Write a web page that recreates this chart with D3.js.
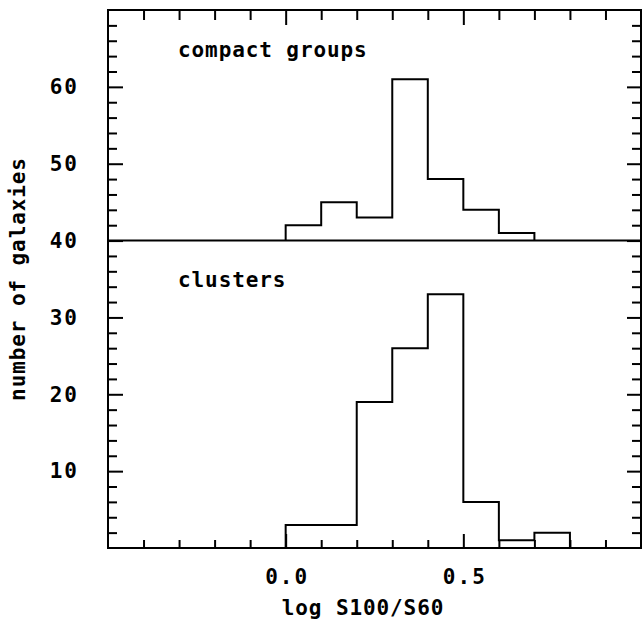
<!DOCTYPE html>
<html>
<head>
<meta charset="utf-8">
<script src="https://cdn.jsdelivr.net/npm/d3@7"></script>
<style>
  body { margin: 0; background: #fff; }
  svg text { font-family: "DejaVu Sans Mono", monospace; font-weight: bold; fill: #000; }
</style>
</head>
<body>
<svg></svg>
<script>
var width = 643;
var height = 620;
var mLeft = 108, mRight = 641, mTop = 10, mBottom = 548;

// histogram bins start at 0.0 with width 0.1
var binWidth = 0.1;
var groupCounts = [2, 5, 3, 21, 8, 4, 1];
var clusterCounts = [3, 3, 19, 26, 33, 6, 1, 2];
var groupBase = 40;
var yLabels = [10, 20, 30, 40, 50, 60];
var xLabelValues = [0.0, 0.5];
var xLabelText = ["0.0", "0.5"];

var svg = d3.select("svg")
    .attr("width", width)
    .attr("height", height);

var xScale = d3.scaleLinear().domain([-0.5, 1.0]).range([mLeft, mRight]);
var yScale = d3.scaleLinear().domain([0, 70]).range([mBottom, mTop]);

var xMinor = d3.range(-4, 10).map(d => d / 10).filter(d => Math.abs(d) > 1e-9 && Math.abs(d - 0.5) > 1e-9);
var yMinor = d3.range(2, 70, 2).filter(d => d % 10 !== 0);

function noDomain(g) { g.select(".domain").remove(); g.selectAll("line").attr("stroke", "#000").attr("stroke-width", 2); }

// left
svg.append("g").attr("transform", "translate(" + mLeft + ",0)")
    .call(d3.axisLeft(yScale).tickValues(yMinor).tickSize(-9).tickFormat(""))
    .call(noDomain);
svg.append("g").attr("transform", "translate(" + mLeft + ",0)")
    .call(d3.axisLeft(yScale).tickValues(yLabels).tickSize(-15).tickPadding(31))
    .call(noDomain)
  .selectAll("text")
    .style("font-size", "21px")
    .style("letter-spacing", "2px")
    .attr("dx", "2px");

// right
svg.append("g").attr("transform", "translate(" + mRight + ",0)")
    .call(d3.axisRight(yScale).tickValues(yMinor).tickSize(-9).tickFormat(""))
    .call(noDomain);
svg.append("g").attr("transform", "translate(" + mRight + ",0)")
    .call(d3.axisRight(yScale).tickValues(yLabels).tickSize(-14).tickFormat(""))
    .call(noDomain);

// top
svg.append("g").attr("transform", "translate(0," + mTop + ")")
    .call(d3.axisTop(xScale).tickValues(xMinor).tickSize(-10).tickFormat(""))
    .call(noDomain);
svg.append("g").attr("transform", "translate(0," + mTop + ")")
    .call(d3.axisTop(xScale).tickValues(xLabelValues).tickSize(-15).tickFormat(""))
    .call(noDomain);

// bottom
svg.append("g").attr("transform", "translate(0," + mBottom + ")")
    .call(d3.axisBottom(xScale).tickValues(xMinor).tickSize(-8).tickFormat(""))
    .call(noDomain);
svg.append("g").attr("transform", "translate(0," + mBottom + ")")
    .call(d3.axisBottom(xScale).tickValues(xLabelValues).tickSize(-14).tickPadding(21)
            .tickFormat((d, i) => xLabelText[i]))
    .call(noDomain)
  .selectAll("text")
    .style("font-size", "21px")
    .style("letter-spacing", "2px")
    .attr("dx", "1px");

// frame
svg.append("rect")
    .attr("x", mLeft).attr("y", mTop)
    .attr("width", mRight - mLeft).attr("height", mBottom - mTop)
    .attr("fill", "none").attr("stroke", "#000").attr("stroke-width", 2);

// separator at 40
svg.append("line")
    .attr("x1", mLeft).attr("x2", mRight)
    .attr("y1", yScale(groupBase)).attr("y2", yScale(groupBase))
    .attr("stroke", "#000").attr("stroke-width", 2);

function stepPoints(counts, base) {
  var pts = [[0, base]];
  counts.forEach((c, i) => pts.push([i * binWidth, base + c]));
  pts.push([counts.length * binWidth, base]);
  return pts;
}

var line = d3.line()
    .x(d => xScale(d[0]))
    .y(d => yScale(d[1]))
    .curve(d3.curveStepAfter);

svg.append("path")
    .attr("d", line(stepPoints(groupCounts, groupBase)))
    .attr("fill", "none").attr("stroke", "#000").attr("stroke-width", 2);

svg.append("path")
    .attr("d", line(stepPoints(clusterCounts, 0)))
    .attr("fill", "none").attr("stroke", "#000").attr("stroke-width", 2);

// panel labels
svg.append("text")
    .attr("x", 178).attr("y", 57)
    .style("font-size", "21px").style("letter-spacing", "0.9px")
    .text("compact groups");

svg.append("text")
    .attr("x", 178).attr("y", 287)
    .style("font-size", "21px").style("letter-spacing", "0.9px")
    .text("clusters");

// axis titles
svg.append("text")
    .attr("x", 363).attr("y", 615)
    .style("text-anchor", "middle")
    .style("font-size", "21px").style("letter-spacing", "0.9px")
    .text("log S100/S60");

svg.append("text")
    .attr("transform", "translate(25,279) rotate(-90)")
    .style("text-anchor", "middle")
    .style("font-size", "21px").style("letter-spacing", "0.9px")
    .text("number of galaxies");
</script>
</body>
</html>
